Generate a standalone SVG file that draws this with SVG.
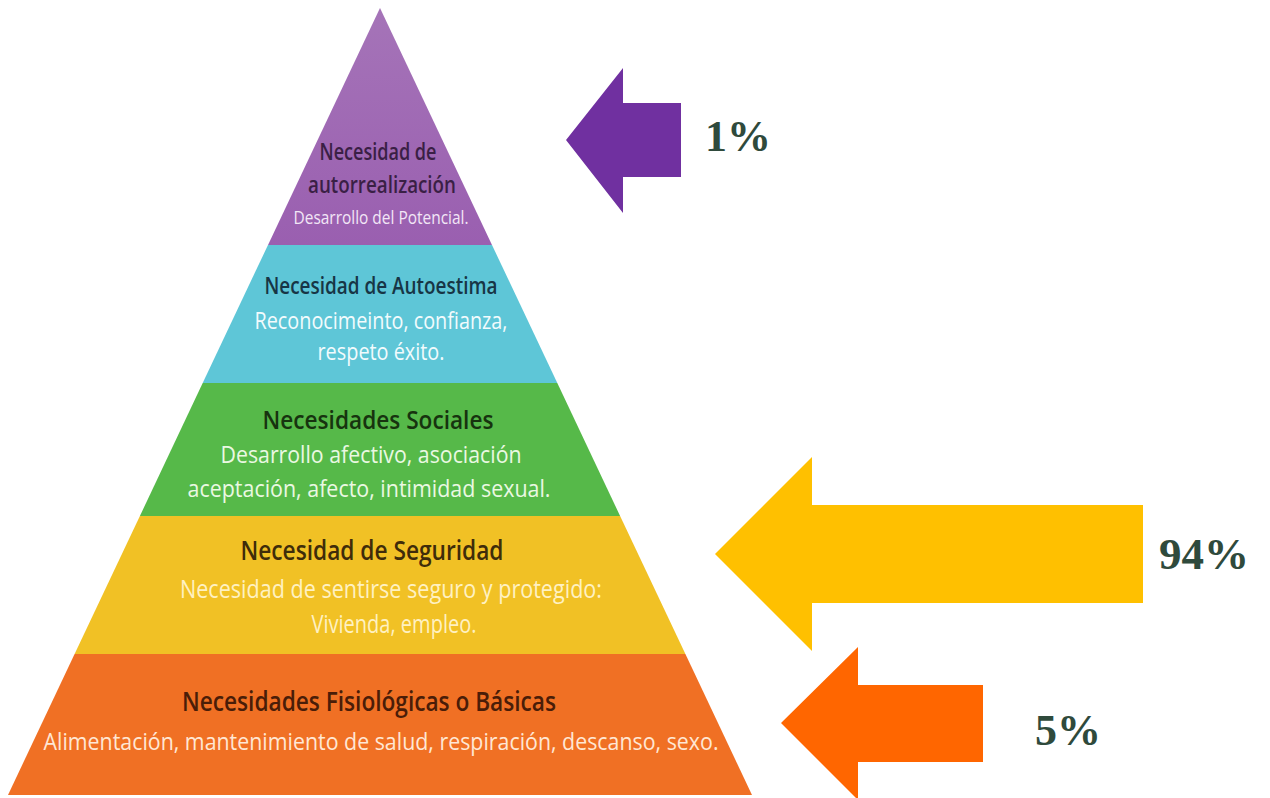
<svg xmlns="http://www.w3.org/2000/svg" width="1270" height="798" viewBox="0 0 1270 798">
  <style>
    .hd { font-family: "Open Sans", "Liberation Sans", sans-serif; font-weight: 600; text-anchor: middle; }
    .sb { font-family: "Open Sans", "Liberation Sans", sans-serif; font-weight: 500; text-anchor: middle; }
    .pct { font-family: "Liberation Serif", "DejaVu Serif", serif; font-weight: bold; fill: #2F4A3C; }
  </style>
  <defs>
    <linearGradient id="gPurple" x1="0" y1="0" x2="0" y2="1">
      <stop offset="0" stop-color="#A574B8"/>
      <stop offset="1" stop-color="#9A5FB0"/>
    </linearGradient>
  </defs>
  <rect width="1270" height="798" fill="#FFFFFF"/>

  <g id="level-autorrealizacion">
    <polygon points="380,8 492,245 268,245" fill="url(#gPurple)"/>
    <text class="hd" x="378" y="160" font-size="23" fill="#3A1F45" textLength="117" lengthAdjust="spacingAndGlyphs">Necesidad de</text>
    <text class="hd" x="382" y="193" font-size="23" fill="#3A1F45" textLength="148" lengthAdjust="spacingAndGlyphs">autorrealización</text>
    <text class="sb" x="381" y="224" font-size="19" fill="#F2E6F6" textLength="175" lengthAdjust="spacingAndGlyphs">Desarrollo del Potencial.</text>
  </g>

  <g id="level-autoestima">
    <polygon points="268,245 492,245 557.3,383 202.7,383" fill="#5EC6D7"/>
    <text class="hd" x="381" y="294" font-size="23" fill="#173545" textLength="233" lengthAdjust="spacingAndGlyphs">Necesidad de Autoestima</text>
    <text class="sb" x="381" y="329" font-size="23" fill="#F2FBFD" textLength="253" lengthAdjust="spacingAndGlyphs">Reconocimeinto, confianza,</text>
    <text class="sb" x="381" y="360" font-size="23" fill="#F2FBFD" textLength="127" lengthAdjust="spacingAndGlyphs">respeto éxito.</text>
  </g>

  <g id="level-sociales">
    <polygon points="202.7,383 557.3,383 620.1,516 139.9,516" fill="#56B949"/>
    <text class="hd" x="378" y="429" font-size="25" fill="#17330F" textLength="231" lengthAdjust="spacingAndGlyphs">Necesidades Sociales</text>
    <text class="sb" x="371" y="463" font-size="24" fill="#EAF8E2" textLength="301" lengthAdjust="spacingAndGlyphs">Desarrollo afectivo, asociación</text>
    <text class="sb" x="369" y="497" font-size="24" fill="#EAF8E2" textLength="363" lengthAdjust="spacingAndGlyphs">aceptación, afecto, intimidad sexual.</text>
  </g>

  <g id="level-seguridad">
    <polygon points="139.9,516 620.1,516 685.4,654 74.6,654" fill="#F1C125"/>
    <text class="hd" x="372" y="560" font-size="27" fill="#3F2C0A" textLength="263" lengthAdjust="spacingAndGlyphs">Necesidad de Seguridad</text>
    <text class="sb" x="391" y="598" font-size="25" fill="#FFF1C2" textLength="422" lengthAdjust="spacingAndGlyphs">Necesidad de sentirse seguro y protegido:</text>
    <text class="sb" x="394" y="633" font-size="25" fill="#FFF1C2" textLength="165" lengthAdjust="spacingAndGlyphs">Vivienda, empleo.</text>
  </g>

  <g id="level-fisiologicas">
    <polygon points="74.6,654 685.4,654 752,795 8,795" fill="#F07024"/>
    <text class="hd" x="369" y="711" font-size="27" fill="#4A1D08" textLength="374" lengthAdjust="spacingAndGlyphs">Necesidades Fisiológicas o Básicas</text>
    <text class="sb" x="381" y="750" font-size="24" fill="#FFE7D4" textLength="675" lengthAdjust="spacingAndGlyphs">Alimentación, mantenimiento de salud, respiración, descanso, sexo.</text>
  </g>

  <g id="connectors">
    <polygon id="arrow-purple" points="566,140 623,68 623,103 681,103 681,177 623,177 623,213" fill="#7030A0"/>
    <polygon id="arrow-yellow" points="715,554 812,457 812,505 1143,505 1143,603 812,603 812,651" fill="#FFC000"/>
    <polygon id="arrow-orange" points="781,723 858,647 858,685 983,685 983,762 858,762 858,800" fill="#FF6600"/>
  </g>

  <g id="label-1">
    <text class="pct" x="705" y="151" font-size="44">1%</text>
  </g>
  <g id="label-94">
    <text class="pct" x="1159" y="569" font-size="45">94%</text>
  </g>
  <g id="label-5">
    <text class="pct" x="1035" y="745" font-size="44">5%</text>
  </g>
</svg>
